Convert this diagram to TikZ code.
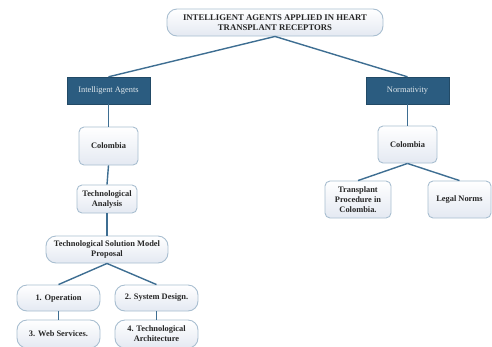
\documentclass[tikz,border=0pt]{standalone}
\usepackage{fontspec}
\setmainfont{Liberation Serif}
\definecolor{linec}{HTML}{3E6E92}
\definecolor{darkbox}{HTML}{2B5C80}
\definecolor{boxedge}{HTML}{A8BED0}
\definecolor{boxbot}{HTML}{E4E9F2}
\begin{document}
\begin{tikzpicture}[x=1pt,y=-1pt,
  lightbox/.style={draw=boxedge,line width=0.9pt,rounded corners=5pt,top color=white,bottom color=boxbot,
    align=center,font=\bfseries\fontsize{8.4}{10}\selectfont,text=black!85,inner sep=1pt},
  roundbox/.style={lightbox,rounded corners=10pt},
  darkbox/.style={draw=darkbox!80!black,fill=darkbox,text=white!85!darkbox,align=center,
    font=\fontsize{8.4}{10}\selectfont,inner sep=1pt},
  conn/.style={draw=linec,line width=1.4pt}]
\useasboundingbox (0,0) rectangle (492,346);
\node[roundbox,minimum width=216pt,minimum height=27pt,font=\bfseries\fontsize{8.7}{9.5}\selectfont] (title) at (275,22.5)
  {INTELLIGENT AGENTS APPLIED IN HEART\\TRANSPLANT RECEPTORS};
\node[darkbox,minimum width=83pt,minimum height=27pt] (ia) at (108.5,90.5) {Intelligent Agents};
\node[darkbox,minimum width=83pt,minimum height=27pt] (nor) at (407.5,90.5) {Normativity};
\node[lightbox,minimum width=59pt,minimum height=38pt] (coll) at (108.5,146) {Colombia};
\node[lightbox,minimum width=59pt,minimum height=37pt] (colr) at (407.5,144.5) {Colombia};
\node[lightbox,minimum width=60pt,minimum height=28pt] (tan) at (107,199) {Technological\\Analysis};
\node[roundbox,minimum width=122pt,minimum height=27pt] (tsm) at (107,249.5) {Technological Solution Model\\Proposal};
\node[roundbox,minimum width=83pt,minimum height=26pt] (op) at (58.5,298) {1. Operation};
\node[roundbox,minimum width=83pt,minimum height=26pt] (sd) at (156.5,298) {2. System Design.};
\node[roundbox,minimum width=83pt,minimum height=28pt] (ws) at (58.5,334) {3. Web Services.};
\node[roundbox,minimum width=83pt,minimum height=28pt] (ta) at (156.5,334) {4. Technological\\Architecture};
\node[lightbox,minimum width=66pt,minimum height=37pt] (tp) at (358,199.5) {Transplant\\Procedure in\\Colombia.};
\node[lightbox,minimum width=63pt,minimum height=37pt] (ln) at (459.5,199.5) {Legal Norms};
\draw[conn] (title.south) -- (ia.north);
\draw[conn] (title.south) -- (nor.north);
\draw[conn] (ia.south) -- (coll.north);
\draw[conn] (coll.south) -- (tan.north);
\draw[conn] (tan.south) -- (tsm.north);
\draw[conn] (tsm.south) -- (op.north);
\draw[conn] (tsm.south) -- (sd.north);
\draw[conn] (op.south) -- (ws.north);
\draw[conn] (sd.south) -- (ta.north);
\draw[conn] (nor.south) -- (colr.north);
\draw[conn] (colr.south) -- (tp.north);
\draw[conn] (colr.south) -- (ln.north);
\end{tikzpicture}
\end{document}
